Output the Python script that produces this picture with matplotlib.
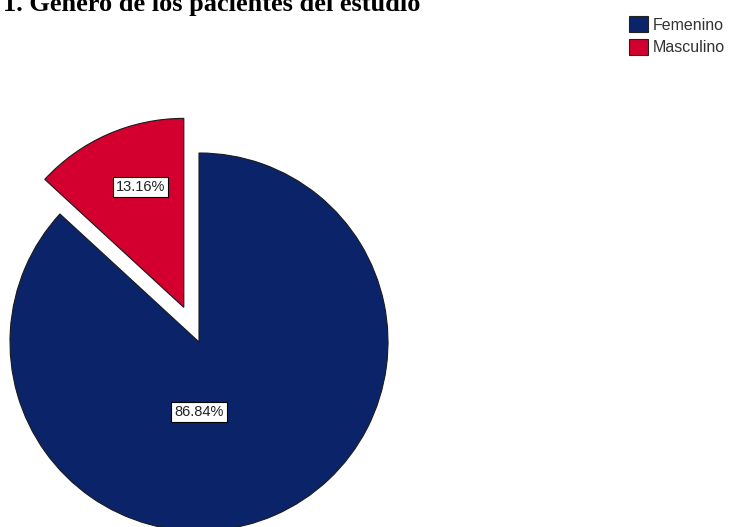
import matplotlib.pyplot as plt
from matplotlib.patches import Patch

# Gender breakdown of the study patients (counts)
categories = ["Masculino", "Femenino"]
counts = [10, 66]
colors = ["#d3002f", "#0b2469"]
legend_order = ["Femenino", "Masculino"]

W, H, DPI = 733, 527, 100
cx_px, cy_px, r_px = 199, 342, 189

fig = plt.figure(figsize=(W / DPI, H / DPI), dpi=DPI)
ax = fig.add_axes([0, 0, 1, 1])

total = sum(counts)
pcts = [100 * c / total for c in counts]

wedges, _ = ax.pie(counts, colors=colors, startangle=90, counterclock=True,
                   explode=[0.2, 0.0], radius=1.0,
                   wedgeprops=dict(edgecolor="#1a1a1a", linewidth=0.8))

# pie() resets the limits, so place the pie afterwards
ax.set_xlim(-cx_px / r_px, (W - cx_px) / r_px)
ax.set_ylim(-(H - cy_px) / r_px, cy_px / r_px)
ax.set_aspect("equal")
ax.axis("off")

# percentage labels in boxed text
label_pos = {"Masculino": (-0.31, 0.82), "Femenino": (0.0, -0.37)}
for cat, p in zip(categories, pcts):
    x, y = label_pos[cat]
    ax.text(x, y, f"{p:.2f}%", ha="center", va="center", fontsize=10.5,
            family="Liberation Sans", color="#222222",
            bbox=dict(boxstyle="square,pad=0.2", facecolor="white",
                      edgecolor="black", linewidth=0.8))

fig.text(3 / W, 1 - 11 / H, "1. Género de los pacientes del estudio",
         ha="left", va="baseline", fontsize=19, fontweight="bold",
         family="Liberation Serif")

color_map = dict(zip(categories, colors))
handles = [Patch(facecolor=color_map[c], edgecolor="#222222", linewidth=0.8, label=c)
           for c in legend_order]
fig.legend(handles=handles, loc="upper left", bbox_to_anchor=(618 / W, 1 - 5 / H),
           frameon=False, handlelength=1.15, handleheight=1.15, handletextpad=0.35,
           labelspacing=0.4, borderpad=0.2,
           prop={"family": "Liberation Sans", "size": 11.5}, labelcolor="#333333")

fig.savefig("out.png", dpi=DPI)
